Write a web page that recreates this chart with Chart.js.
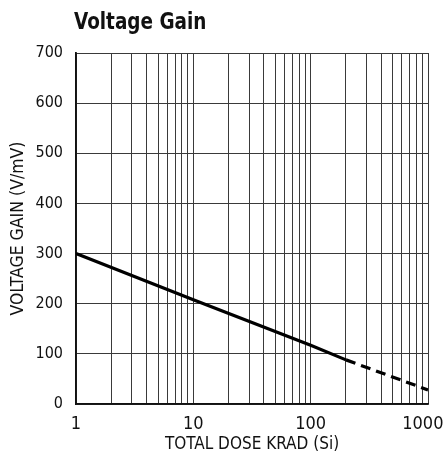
<!DOCTYPE html>
<html>
<head>
<meta charset="utf-8">
<script src="https://cdn.jsdelivr.net/npm/chart.js@4/dist/chart.umd.min.js"></script>
<style>
html,body{margin:0;padding:0;background:#fff;}
#wrap{position:relative;width:447px;height:460px;}
</style>
</head>
<body>
<div id="wrap"><canvas id="c" width="447" height="460"></canvas></div>
<script>
const chartTitle = "Voltage Gain";
const xTitle = "TOTAL DOSE KRAD (Si)";
const yTitle = "VOLTAGE GAIN (V/mV)";
const xTickValues = [1,2,3,4,5,6,7,8,9,10,20,30,40,50,60,70,80,90,100,200,300,400,500,600,700,800,900,1000];
const xLabels = {1: "1", 10: "10", 100: "100", 1000: "1000  "};
const solidDose = [1, 10, 100, 200];
const solidGain = [300, 208, 117, 88];
const dashedDose = [200, 1000];
const dashedGain = [88, 28];

const FONT = "'Liberation Sans Narrow','DejaVu Sans Condensed','Arial Narrow',sans-serif";

const titlePlugin = {
  id: 'leftTitle',
  afterDraw(chart) {
    const ctx = chart.ctx;
    ctx.save();
    ctx.font = "bold 23px " + FONT;
    ctx.fillStyle = '#111';
    ctx.textBaseline = 'alphabetic';
    ctx.textAlign = 'left';
    const x0 = chart.chartArea.left - 2;
    ctx.translate(x0, 29);
    ctx.scale(0.89, 1);
    ctx.fillText(chartTitle, 0, 0);
    ctx.restore();
  }
};

new Chart(document.getElementById('c'), {
  type: 'line',
  data: {
    datasets: [
      {
        data: solidDose.map((x, i) => ({x: x, y: solidGain[i]})),
        borderColor: '#000', borderWidth: 3.2, pointRadius: 0, tension: 0
      },
      {
        data: dashedDose.map((x, i) => ({x: x, y: dashedGain[i]})),
        borderColor: '#000', borderWidth: 3.2, pointRadius: 0, tension: 0,
        borderDash: [10, 6]
      }
    ]
  },
  options: {
    responsive: false,
    animation: false,
    devicePixelRatio: 1,
    layout: { padding: { left: 0, right: 19, top: 53, bottom: 0 } },
    plugins: { legend: { display: false }, tooltip: { enabled: false }, title: { display: false } },
    scales: {
      x: {
        type: 'logarithmic',
        min: 1, max: 1000,
        afterBuildTicks(scale) { scale.ticks = xTickValues.map(v => ({value: v})); },
        afterFit(scale) { scale.height = 56; scale.paddingRight = 0; scale.paddingLeft = 0; },
        ticks: {
          autoSkip: false, maxRotation: 0, padding: 10,
          color: '#111',
          font: { family: FONT, size: 18 },
          callback(v) { return xLabels[v] !== undefined ? xLabels[v] : ''; }
        },
        grid: { color: '#3a3a3a', lineWidth: 1, drawTicks: false },
        border: { color: '#111', width: 1.8 },
        title: { display: true, text: xTitle, color: '#111', font: { family: FONT, size: 17 }, padding: { top: 0, bottom: 5 } }
      },
      y: {
        min: 0, max: 700,
        ticks: { stepSize: 100, padding: 13, color: '#111', font: { family: FONT, size: 16 } },
        afterFit(scale) { scale.width = 76; },
        grid: { color: '#3a3a3a', lineWidth: 1, drawTicks: false },
        border: { color: '#111', width: 1.8 },
        title: { display: true, text: yTitle, color: '#111', font: { family: FONT, size: 17.5 }, padding: { top: 8, bottom: 0 } }
      }
    }
  },
  plugins: [titlePlugin]
});
</script>
</body>
</html>
